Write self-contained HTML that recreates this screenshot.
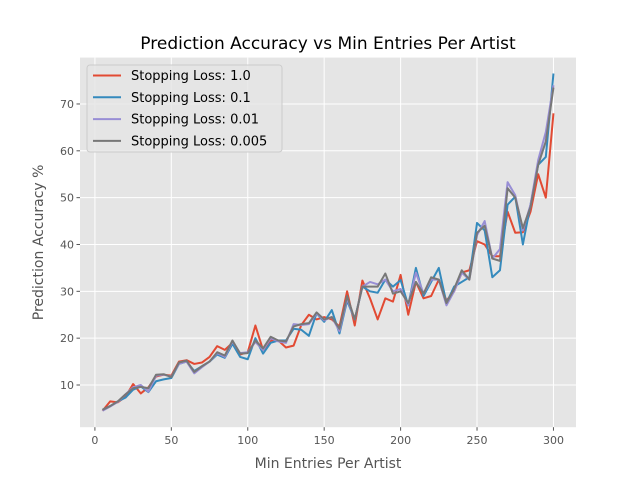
<!DOCTYPE html>
<html><head><meta charset="utf-8"><style>
body{margin:0;background:#fff;font-family:"DejaVu Sans","Liberation Sans",sans-serif}
</style></head><body>
<svg id="c" width="640" height="480" xmlns="http://www.w3.org/2000/svg"></svg>
<script>
const xs = [];
for (let i = 5; i <= 300; i += 5) xs.push(i);
const seriesNames = ["Stopping Loss: 1.0","Stopping Loss: 0.1","Stopping Loss: 0.01","Stopping Loss: 0.005"];
const seriesColors = ["#E24A33","#348ABD","#988ED5","#777777"];
const s1 = [4.5,6.5,6.3,7.5,10.2,8.2,9.5,11.8,12.2,12,15,15.3,14.5,14.8,16,18.3,17.5,19,16.5,17,22.7,17.5,19.5,19.5,18,18.4,22.8,25,24,24.5,24,22.5,30,22.7,32.3,28.5,24,28.5,27.8,33.5,25,32,28.5,29,32.5,28,30,34,34.5,40.7,40,37.5,37.5,47,42.5,42.6,47,55,50,68];
const s2 = [4.7,5.5,6.5,7.3,9,9.7,8.5,10.8,11.2,11.5,14.5,15,13,14,15,16.5,15.8,18.8,16,15.5,20,16.7,19,19.5,19.5,22,21.8,20.5,25.3,23.5,26,21,28,24,31,30,29.7,32.5,31,32.4,27,35,29,32,35,27.5,31,32,33,44.6,43,33,34.5,48.5,50.2,40,48.5,57,58.7,76.5];
const s3 = [4.5,5.4,6.4,8,9.5,10,8.6,12,12.2,11.8,14.5,15,12.5,13.8,15,16.8,16,19.3,16.8,17,19.2,17.5,20,19.3,19,23,22.8,23,25.3,23.8,24.5,21.5,28.5,24,31,32,31.5,32.5,30,30.5,27,34,29.5,32.5,32.5,27,30,34,32.5,42,45,37,39,53.3,50.5,43,48.5,58,64,74];
const s4 = [4.7,5.5,6.5,8,9.3,9.6,9.3,12.2,12.3,11.7,14.8,15.2,12.8,14,15,17,16.3,19.5,16.7,16.8,19.5,17.8,20.3,19.5,19.3,22.5,23,23.2,25.5,24,24.5,22,29,24,31,31,31,33.8,29.5,30,27.5,32,29.5,33,32.5,27.5,30.5,34.5,32.5,42.5,44,37,36.5,52,50,43.5,48,57,62,73.5];
const allSeries = [s1,s2,s3,s4];
const xTicks = [0,50,100,150,200,250,300];
const yTicks = [10,20,30,40,50,60,70];

const L=80,R=576,T=57.6,B=427.2;
const xmin=-9.75,xmax=314.75,ymin=0.99,ymax=79.9;
const X=v=>L+(v-xmin)/(xmax-xmin)*(R-L);
const Y=v=>B-(v-ymin)/(ymax-ymin)*(B-T);
const svg=document.getElementById('c');
const NS='http://www.w3.org/2000/svg';
function mk(tag,attrs,parent){const e=document.createElementNS(NS,tag);for(const k in attrs)e.setAttribute(k,attrs[k]);(parent||svg).appendChild(e);return e;}

const bg=mk('rect',{x:L,y:T,width:R-L,height:B-T,fill:'#E5E5E5'});


xTicks.forEach(t=>{
  const g=mk('line',{x1:X(t),x2:X(t),y1:T,y2:B,stroke:'#fff','stroke-width':1});
  
  
  const tk=mk('line',{x1:X(t),x2:X(t),y1:B,y2:B+3.5,stroke:'#555'});
  
  
  const tx=mk('text',{x:X(t),y:B+17,'text-anchor':'middle','font-size':11,fill:'#555'});
  tx.textContent=t;
  
  
});
yTicks.forEach(t=>{
  const g=mk('line',{x1:L,x2:R,y1:Y(t),y2:Y(t),stroke:'#fff','stroke-width':1});
  
  
  const tk=mk('line',{x1:L-3.5,x2:L,y1:Y(t),y2:Y(t),stroke:'#555'});
  
  
  const tx=mk('text',{x:L-6,y:Y(t)+4,'text-anchor':'end','font-size':11,fill:'#555'});
  tx.textContent=t;
  
  
});
allSeries.forEach((s,i)=>{
  const p=mk('polyline',{points:s.map((v,j)=>X(xs[j])+','+Y(v)).join(' '),fill:'none',stroke:seriesColors[i],'stroke-width':2,'stroke-linejoin':'round'});
  
  
});
const title=mk('text',{x:(L+R)/2,y:49,'text-anchor':'middle','font-size':17,fill:'#000'});
title.textContent='Prediction Accuracy vs Min Entries Per Artist';


const xl=mk('text',{x:(L+R)/2,y:468,'text-anchor':'middle','font-size':14,fill:'#555'});
xl.textContent='Min Entries Per Artist';


const yl=mk('text',{x:0,y:0,'text-anchor':'middle','font-size':14,fill:'#555',transform:'translate(43,'+((T+B)/2)+') rotate(-90)'});
yl.textContent='Prediction Accuracy %';


const lg=mk('rect',{x:87,y:65,width:195,height:87,rx:3,fill:'#E5E5E5','fill-opacity':0.8,stroke:'#ccc'});


seriesNames.forEach((n,i)=>{
  const y=75.5+i*21.8;
  const ln=mk('line',{x1:93,x2:121,y1:y,y2:y,stroke:seriesColors[i],'stroke-width':2});
  
  
  const t=mk('text',{x:131,y:y+4.5,'font-size':13,fill:'#000'});
  t.textContent=n;
  
  
});
</script>
</body></html>
